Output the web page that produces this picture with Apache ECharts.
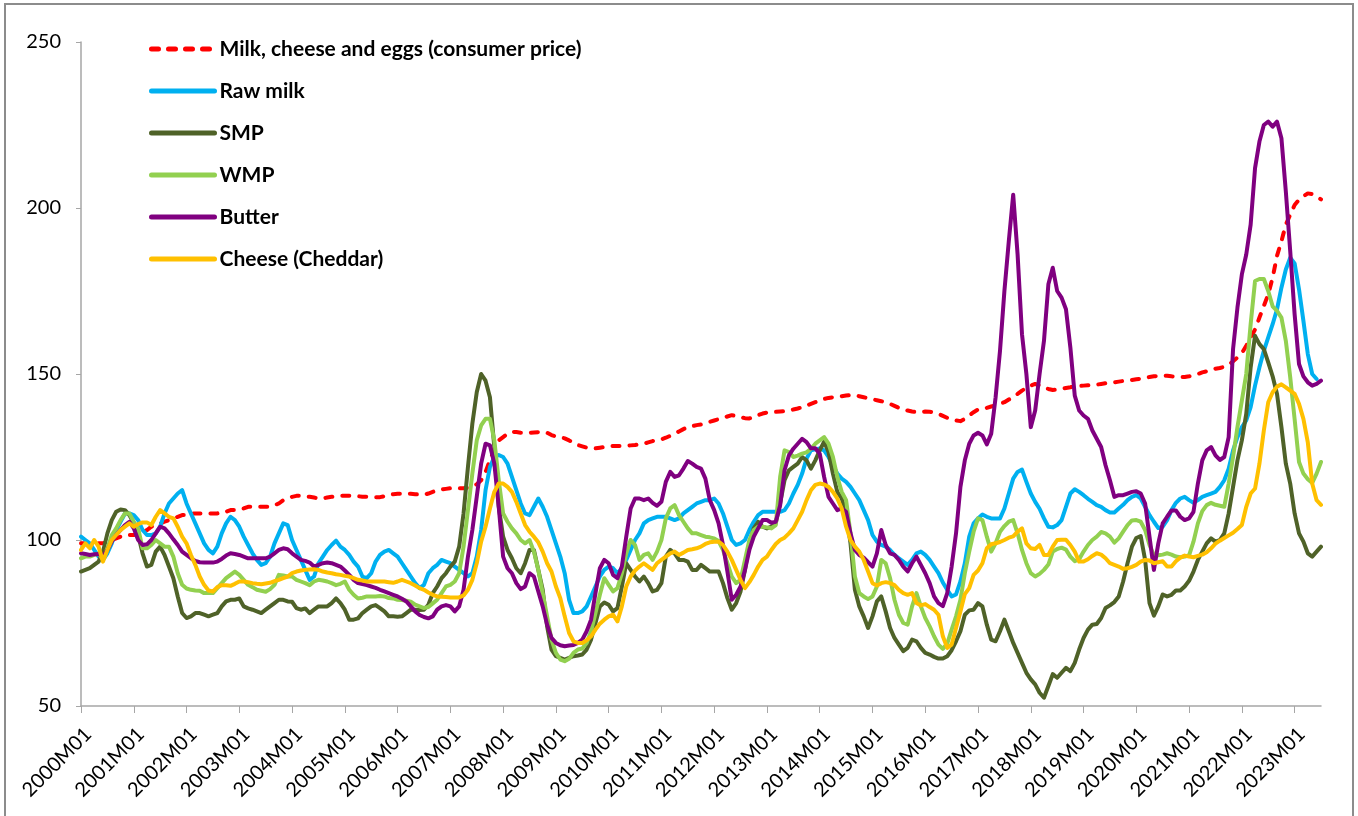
<!DOCTYPE html>
<html>
<head>
<meta charset="utf-8">
<script src="https://cdn.jsdelivr.net/npm/echarts@6/dist/echarts.min.js"></script>
<style>
  html, body { margin: 0; padding: 0; background: #fff; overflow: hidden; }
  #chart { width: 1358px; height: 816px; }
  #frame { position: absolute; left: 4px; top: 3px; width: 1346px; height: 840px;
           border: 2px solid #8c8c8c; pointer-events: none; }
</style>
</head>
<body>
<div id="chart"></div>
<div id="frame"></div>
<script>
// monthly index values, 2000M01 .. 2023M07
var months = [];
for (var y = 2000; y <= 2023; y++) {
  for (var m = 1; m <= 12; m++) {
    if (y === 2023 && m > 7) break;
    months.push(y + 'M' + (m < 10 ? '0' + m : m));
  }
}

var cpi = [
  99, 99, 98.5, 98.5, 99, 99, 99.5, 100, 100.5, 101, 101, 101.5,
  101.5, 102, 102.5, 103, 104, 104.5, 105, 105.5, 106, 106.5, 107, 107.5,
  107.5, 108, 108, 108, 108, 108, 108, 108, 108.5, 108.5, 109, 109,
  109.5, 109.5, 110, 110, 110, 110, 110, 110, 110.5, 111, 112, 112.5,
  113, 113.3, 113.3, 113, 113, 112.8, 112.5, 112.5, 112.8, 113, 113.2, 113.3,
  113.3, 113.3, 113.3, 113.2, 113, 113, 113, 112.9, 112.9, 113.2, 113.5, 113.8,
  113.9, 113.9, 113.9, 113.9, 113.8, 113.7, 113.6, 114, 114.5, 115, 115.2, 115.4,
  115.6, 115.6, 115.6, 115.6, 115.8, 116.2, 116.8, 118, 120.5, 124, 127.5, 130,
  131, 132, 132.6, 132.5, 132.3, 132.3, 132.3, 132.4, 132.5, 132.6, 132.3, 131.6,
  131.2, 131, 130.6, 130, 129.3, 128.6, 128.2, 127.8, 127.6, 127.6, 127.8, 128,
  128.3, 128.3, 128.3, 128.3, 128.4, 128.5, 128.6, 128.8, 129, 129.4, 129.8, 130.1,
  130.3, 130.8, 131.4, 132, 132.7, 133.4, 134, 134.3, 134.6, 134.8, 135.2, 135.6,
  136, 136.4, 136.8, 137.2, 137.6, 137.3, 137, 136.7, 136.6, 137.1, 137.6, 138.1,
  138.4, 138.5, 138.6, 138.7, 138.8, 139, 139.3, 139.6, 140, 140.5, 141, 141.5,
  142, 142.5, 142.8, 143, 143.2, 143.3, 143.5, 143.7, 143.6, 143.3, 143, 142.7,
  142.4, 142.1, 141.8, 141.5, 141, 140.4, 139.8, 139.3, 139, 138.7, 138.5, 138.5,
  138.7, 138.6, 138.4, 138, 137.4, 136.8, 136.3, 136, 135.8, 136.5, 137.5, 138.5,
  139.3, 139.5, 139.8, 140.2, 140.5, 141, 141.5, 142.3, 143, 144, 145, 145.8,
  146.5, 147, 146.5, 146, 145.5, 145.2, 145.3, 145.6, 145.8, 146, 146.3, 146.4,
  146.5, 146.6, 146.7, 146.8, 147, 147.2, 147.4, 147.5, 147.7, 147.9, 148, 148.2,
  148.4, 148.6, 148.8, 149.1, 149.3, 149.4, 149.5, 149.5, 149.3, 149.2, 149.1, 149.1,
  149.3, 149.6, 150, 150.5, 150.8, 151.2, 151.6, 151.8, 152.2, 152.8, 153.8, 155,
  156.3, 158.5, 161, 163.4, 167, 170.5, 174, 179, 185.6, 190, 195, 198,
  200.9, 202.5, 203.5, 204.4, 204.2, 203.5, 202.6
];

var rawMilk = [
  101, 100, 99, 97, 95, 94, 96, 99, 103, 105.5, 108, 108,
  107.5, 106, 103, 101.5, 101.5, 102, 104, 108, 111, 112.5, 114, 115,
  111, 108, 105, 102, 99, 97, 96, 98, 102, 105, 107, 106,
  104, 101, 98.5, 96, 94, 92.5, 93, 95, 99, 102, 105, 104.5,
  100, 97, 94, 91, 88, 89, 93, 95, 97, 98.5, 99.8, 98,
  97, 95.5, 93.5, 92, 89, 88.5, 90, 93.5, 95.5, 96.5, 97, 96,
  95, 93, 91, 89, 87, 85.5, 86.5, 90, 91.5, 92.5, 94, 93.5,
  93, 92, 91, 90, 89, 90, 95, 103, 115, 122, 125, 125.6,
  125, 123, 119, 115, 111, 108, 107.5, 110, 112.5, 110, 107, 103,
  99, 95, 90, 82, 78, 78, 78.5, 80, 83, 86, 89, 91,
  92, 91.5, 90, 91.5, 94, 97, 100, 102, 105, 106, 106.5, 107,
  107, 107, 106.5, 106, 106.5, 108, 109, 110, 111, 111.5, 112, 112,
  112.5, 111, 108, 104, 100, 98.5, 99, 100, 103, 105.5, 107.5, 108.5,
  108.5, 108.5, 108.5, 108.5, 109, 111, 114, 116.6, 120, 124.5, 127, 127.3,
  127.6, 127, 125, 122.5, 120, 118.5, 117.5, 116, 114, 112, 109, 106,
  101.5, 99.5, 98.5, 98, 97, 95.5, 94.5, 93.5, 92.5, 94, 96, 96.5,
  95.5, 94, 92, 90, 87.2, 85, 83, 83.6, 87.5, 93, 101, 105,
  106.5, 107.7, 107, 106.5, 106.5, 106.5, 109.5, 114, 118.5, 120.5, 121.2, 117.5,
  114, 111.5, 109.4, 106.5, 104, 103.8, 104.5, 106, 110, 114, 115.3, 114.5,
  113.5, 112.4, 111.5, 110.5, 110, 109, 108.3, 108.3, 109.5, 110.6, 112, 113,
  113.5, 112.5, 110, 107.5, 105.5, 103.6, 104, 106, 109, 111.2, 112.5, 113,
  112, 111.2, 112, 113, 113.5, 114, 114.5, 116, 118, 121.5, 127, 131,
  134, 136, 140, 146.5, 152, 157, 161, 165, 169.5, 176, 181.5, 185,
  183.3, 175.5, 166, 156, 150, 148.5, null
];

var smp = [
  90.5, 91, 91.5, 92.5, 93.5, 96.5, 102, 106, 108.5, 109.2, 109, 107.5,
  105, 101.5, 96, 92, 92.5, 96.5, 98, 95.5, 92, 88.5, 83, 78,
  76.5, 77, 78, 78, 77.5, 77, 77.5, 78, 80, 81.5, 82, 82,
  82.4, 80, 79.4, 79, 78.5, 78, 79, 80, 81, 82, 82, 81.5,
  81.4, 79.5, 79, 79.4, 78, 79, 80, 80, 80, 81, 82.4, 81,
  79, 76, 76, 76.4, 78, 79, 80, 80.4, 79.5, 78.5, 77, 77,
  76.9, 77, 78, 79, 79, 78.9, 79, 80.5, 84, 86, 88.5, 90,
  92, 93.5, 98, 108, 122, 135, 144.5, 150, 148, 143, 128, 110,
  101, 97, 94.5, 91.5, 90, 93, 97, 97, 91, 85, 74, 67,
  65, 64.5, 64, 64.5, 65, 65.2, 65.5, 67, 70, 75, 80, 81.2,
  80.5, 78.5, 79.5, 86, 93, 91, 89, 87.5, 89, 87, 84.5, 85,
  87, 95, 97, 96, 94, 94, 93.5, 91, 91, 92.5, 91.5, 90.5,
  90.5, 90.5, 87, 82.5, 79, 81, 84.5, 91, 99, 103.5, 105.5, 104,
  103.5, 104, 105, 111, 118, 121, 122, 123, 125, 124, 121.5, 124,
  127, 129.6, 126.5, 120, 114.5, 112.5, 108, 99, 85, 80, 77, 73.5,
  77, 81.5, 83, 78.5, 73.5, 70.5, 68.5, 66.5, 67.5, 70, 69.5, 67.5,
  66, 65.5, 64.8, 64.3, 64.3, 65, 66.8, 69.5, 72.5, 77.5, 78.8, 79,
  81, 80, 74.5, 70, 69.5, 72.5, 76, 72.5, 69, 66, 63, 60,
  58, 56.5, 54, 52.5, 56, 59.6, 58.5, 60, 61.5, 60.5, 63, 67,
  70.5, 73, 74.5, 74.7, 76.5, 79.5, 80.3, 81.3, 83, 87.5, 93, 98,
  100.6, 101.2, 94, 81, 77.2, 80, 83.6, 83, 83.5, 84.8, 84.8, 86,
  87.7, 90.5, 94, 96.5, 99, 100.5, 99.5, 100, 102, 108, 116, 124,
  130, 138, 152, 161.5, 159, 157.5, 153.5, 149.3, 144, 134, 123, 117,
  108, 102, 99.5, 96, 95, 96.5, 98
];

var wmp = [
  94.5, 95, 95, 95.5, 96, 94, 97.5, 101.5, 103.5, 106, 108, 108,
  105.5, 103.5, 97.5, 97.5, 98.5, 100, 99, 98, 98, 95, 90, 86.5,
  85.4, 85, 84.8, 84.7, 84, 84, 84, 85.5, 87, 88.5, 89.5, 90.5,
  89.5, 88, 86.5, 85.8, 85, 84.7, 84.4, 85.2, 86.5, 89.5, 89.3, 89,
  89, 88, 87.5, 87, 86.4, 87.5, 88, 87.8, 87.5, 87, 86.4, 86.8,
  87.5, 85, 83.5, 82.4, 82.6, 83, 83, 83, 83.1, 83, 82.5, 82.4,
  82, 81.9, 81.7, 81.4, 80.5, 80, 79.5, 79.8, 80.9, 82, 84, 86,
  86.5, 87.5, 90, 98, 109, 120, 130, 134.5, 136.5, 136.5, 130, 118,
  108, 105.5, 103.5, 102, 100, 99, 100, 96.5, 91, 84, 77, 70,
  66, 64, 63.5, 64.2, 66, 67, 67.3, 69, 72.5, 78, 83.5, 88.5,
  86.5, 84.5, 85.5, 90, 96, 100, 98.5, 94, 95.5, 96, 94, 96.5,
  100, 106.5, 109.5, 110.5, 107.5, 105.5, 103.5, 102, 102, 101.5, 101, 100.8,
  100.5, 99.7, 97, 93, 89, 87, 88, 94, 100, 103, 104, 104,
  103.8, 103.5, 104.5, 119, 127, 126.5, 125, 125.4, 126, 126.4, 127.5, 129,
  130, 131, 129, 125, 119, 114.5, 112, 102, 89, 84, 83, 82.2,
  83, 86, 94, 93, 88.5, 82, 77.5, 75, 74.5, 80, 84, 80,
  76.5, 74, 71, 68.5, 67.2, 68.8, 73, 77, 82, 90, 96.5, 102.5,
  106.5, 106, 101, 96.5, 99, 102.5, 104.2, 105.5, 106, 102, 97, 93,
  90, 89, 89.8, 91, 92.6, 96.5, 97.3, 97.7, 97.1, 95, 93.6, 94.2,
  96.5, 98.5, 100, 101, 102.4, 102, 101, 99.2, 100.5, 102.5, 104.5, 105.9,
  106, 105.5, 103, 98.5, 95.4, 95.4, 95.6, 96, 95.6, 95, 94.8, 95,
  95.4, 99.5, 105, 108.7, 110.5, 111.2, 110.6, 110.3, 110, 117, 125, 134,
  142, 150, 165, 178, 178.6, 178.6, 175, 170.4, 169, 167, 160, 149,
  136.4, 123.5, 120, 118.3, 117.2, 120, 123.5
];

var butter = [
  96, 95.8, 95.5, 95.7, 95.8, 95.2, 97, 99.5, 101.5, 103, 104.5, 105.5,
  103.5, 100, 98.5, 98.7, 100, 102, 104, 103.5, 102, 100.2, 98.5, 96.5,
  95.5, 94.5, 93.7, 93.3, 93.2, 93.2, 93.2, 93.5, 94.3, 95.3, 96, 95.8,
  95.5, 95, 94.5, 94.5, 94.5, 94.5, 94.5, 95, 96, 97, 97.5, 97.2,
  96, 95, 94, 93.7, 93.2, 92, 92.5, 93, 93.2, 93, 92.5, 92,
  90.8, 89.5, 88, 87, 86.7, 86.4, 86, 85.6, 85, 84.5, 84, 83.5,
  83, 82.3, 81.5, 80, 78.5, 77.4, 76.8, 76.4, 77, 79, 80, 80.4,
  80, 78.5, 80, 85, 95, 103, 113, 123, 129, 128.5, 123, 110,
  95, 91.5, 90, 87, 85.2, 86, 90, 89, 84.5, 80, 74.5, 70.5,
  69, 68.3, 68, 68.2, 68.4, 69, 70, 72.5, 76, 84, 91.5, 94,
  93, 89.5, 88.5, 92, 101, 109.5, 112.5, 112.5, 112, 112.5, 111.2, 110.3,
  111.5, 117.5, 120.5, 119, 119.5, 121.5, 123.8, 123, 122, 121.5, 118.5, 112,
  109, 105, 98.5, 90.5, 82, 83.5, 86, 91, 97, 101, 103.5, 106,
  106, 105.2, 105.5, 110.5, 121, 125.5, 127.5, 129, 130.5, 129.5, 127.6, 127.6,
  126, 119, 113, 111, 109, 109.5, 108.5, 102, 97, 95.5, 94.7, 93.3,
  92, 96, 103, 98.5, 96, 95.5, 94, 92, 90.5, 93, 95, 92.5,
  90, 87, 83, 81, 80.1, 84, 92, 102, 116, 124, 129, 131.5,
  132.3, 131.5, 128.8, 132, 143, 157, 175, 190, 204, 186, 162, 150,
  134, 139, 150, 160, 177, 182, 175, 173, 169.5, 158, 143.5, 139,
  137.5, 136.5, 133, 130.5, 128, 122.5, 118, 113, 113.5, 113.5, 114, 114.5,
  114.7, 114, 111, 101, 91, 99, 105, 107, 108.9, 108.9, 107, 106,
  106.5, 108.5, 117, 124, 127, 128, 125.5, 124.1, 125, 131, 157.5, 170,
  180, 186, 195, 212, 220, 225, 226, 224.5, 226, 221, 205, 187,
  168, 153, 149.3, 147.5, 146.5, 147, 148
];

var cheese = [
  97, 99, 97.5, 100, 98, 93.5, 97, 100, 101.5, 103, 104, 105,
  104, 104.8, 105.3, 105.3, 104.5, 107, 109, 108, 107, 106.5, 104, 101,
  99, 95.5, 92.5, 89, 86.5, 84.8, 84.5, 85.8, 86.4, 86.4, 86.2, 86.8,
  87.5, 87.5, 87.3, 87, 86.8, 86.7, 86.9, 87.1, 87.6, 88, 88.5, 89,
  90, 90.5, 90.8, 91, 91.1, 91.2, 91, 90.5, 90.2, 90, 89.7, 89.5,
  89.2, 89, 88.5, 88, 87.8, 87.5, 87.5, 87.5, 87.5, 87.5, 87.3, 87.1,
  87.5, 88, 87.5, 87, 86.3, 85.5, 85, 84.2, 83.5, 83, 82.9, 82.8,
  82.7, 82.7, 82.7, 83.3, 85, 88, 93, 99.5, 104, 109.5, 114.5, 117,
  117, 116, 114.5, 111.5, 108, 104.5, 102.5, 101, 99.3, 96.5, 93, 90.5,
  86, 82.5, 77, 72, 69.5, 69, 69, 69.8, 71, 73, 74.8, 76,
  77, 77.5, 75.5, 80, 86, 89, 90.8, 92, 93, 92, 91, 93,
  94, 95, 96, 96.5, 95.5, 96.2, 97, 97.2, 97.5, 98, 98.8, 99.3,
  99.5, 99.5, 98.5, 96.5, 94, 91, 88, 85.5, 87.3, 89.5, 92, 94,
  95, 97, 98.8, 100, 100.7, 102, 103.5, 106, 108.5, 112, 115, 116.6,
  117, 116.7, 116, 114.5, 112.5, 109.5, 104, 100, 98, 96.5, 94, 90.5,
  87, 86.3, 87, 87.3, 87, 86.4, 85, 84, 83.5, 84, 81, 80.3,
  80.7, 79.8, 79, 77.5, 71, 67.5, 68.5, 73.5, 78.5, 83.7, 85.5, 89.5,
  90.8, 93, 97.5, 98.7, 99, 99.4, 100, 100.7, 101.1, 102.5, 103.5, 99,
  97.5, 97.3, 98.5, 95.5, 95.5, 98, 100, 100.1, 100.1, 98.5, 96.5, 93.5,
  93.5, 94.2, 95.2, 96, 95.6, 94.5, 93, 92.5, 92, 91.3, 91.5, 91.9,
  92.5, 93.5, 94, 93.8, 93, 93.3, 93.6, 92, 92, 93.6, 94.7, 95.3,
  95, 94.8, 95.2, 95.6, 96.3, 97.5, 98.9, 99.8, 100.6, 101.4, 102.2, 103.3,
  104.5, 110, 114, 115.5, 123, 133, 141.5, 144.5, 146.2, 146.9, 146, 145,
  144, 141, 136.5, 129.4, 117, 112, 110.6
];

var names = ['Milk, cheese and eggs (consumer price)', 'Raw milk', 'SMP', 'WMP', 'Butter', 'Cheese (Cheddar)'];
var colors = ['#FF0000', '#00B0F0', '#4F6228', '#92D050', '#800080', '#FFC000'];
var values = [cpi, rawMilk, smp, wmp, butter, cheese];

var series = [];
for (var i = 0; i < names.length; i++) {
  series.push({
    name: names[i],
    type: 'line',
    data: values[i],
    symbol: 'none',
    lineStyle: {
      color: colors[i],
      width: 4,
      type: i === 0 ? [7, 10] : 'solid',
      cap: 'round',
      join: 'round'
    },
    itemStyle: { color: colors[i] }
  });
}

var chart = echarts.init(document.getElementById('chart'));
chart.setOption({
  animation: false,
  backgroundColor: '#fff',
  grid: { left: 81, right: 37, top: 42, bottom: 110, outerBoundsMode: 'none' },
  legend: {
    orient: 'vertical',
    left: 144,
    top: 32,
    itemWidth: 63,
    itemHeight: 14,
    itemGap: 18,
    itemStyle: { color: 'rgba(0,0,0,0)', borderWidth: 0 },
    lineStyle: { width: 5 },
    textStyle: { fontSize: 21, fontWeight: 'bold', fontFamily: 'Lato', color: '#000', lineHeight: 24 },
    data: names
  },
  xAxis: {
    type: 'category',
    data: months,
    boundaryGap: false,
    axisLine: { lineStyle: { color: '#A6A6A6', width: 1.5 } },
    axisTick: { interval: 11, length: 7, lineStyle: { color: '#A6A6A6' } },
    axisLabel: { interval: 11, rotate: 45, verticalAlign: 'top', color: '#000', fontSize: 20, fontFamily: 'Lato', margin: 18 }
  },
  yAxis: {
    type: 'value',
    min: 50,
    max: 250,
    interval: 50,
    axisLine: { show: true, lineStyle: { color: '#A6A6A6', width: 1.5 } },
    axisTick: { show: true, length: 5, lineStyle: { color: '#A6A6A6' } },
    splitLine: { show: false },
    axisLabel: { color: '#000', fontSize: 20, fontFamily: 'Lato', margin: 20 }
  },
  series: series
});
</script>
</body>
</html>
